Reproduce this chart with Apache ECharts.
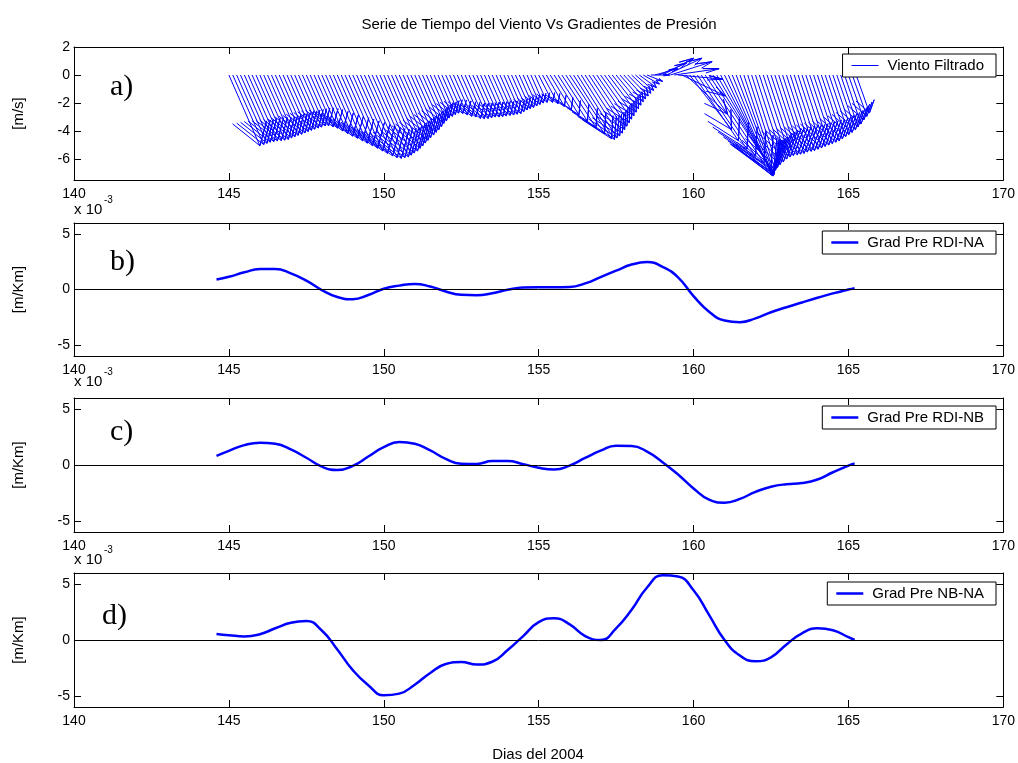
<!DOCTYPE html>
<html>
<head>
<meta charset="utf-8">
<script src="https://cdn.jsdelivr.net/npm/echarts@6/dist/echarts.min.js"></script>
<style>
  html, body { margin: 0; padding: 0; background: #fff; }
  #chart { width: 1018px; height: 763px; }
</style>
</head>
<body>
<div id="chart"></div>
<script>
// Filtered wind, 3-hourly samples starting on day 145 (u, v in m/s)
const windStart = 145;
const windStep = 0.125;
const windU = [
  1.00, 1.00, 0.98, 0.96, 0.95, 0.94, 0.94, 0.93,
  0.92, 0.90, 0.88, 0.86, 0.85, 0.83, 0.81, 0.79,
  0.77, 0.76, 0.74, 0.73, 0.72, 0.74, 0.76, 0.80,
  0.84, 0.87, 0.90, 0.94, 0.97, 1.01, 1.05, 1.09,
  1.12, 1.16, 1.18, 1.19, 1.18, 1.17, 1.14, 1.11,
  1.09, 1.05, 1.01, 0.97, 0.93, 0.89, 0.86, 0.82,
  0.78, 0.74, 0.69, 0.65, 0.61, 0.59, 0.56, 0.54,
  0.55, 0.57, 0.59, 0.60, 0.62, 0.62, 0.62, 0.61,
  0.60, 0.60, 0.59, 0.58, 0.58, 0.57, 0.56, 0.55,
  0.52, 0.50, 0.48, 0.46, 0.44, 0.42, 0.40, 0.40,
  0.45, 0.50, 0.58, 0.68, 0.80, 0.95, 1.10, 1.25,
  1.35, 1.32, 1.28, 1.24, 1.20, 1.15, 1.10, 1.05,
  1.00, 0.95, 0.90, 0.85, 0.80, 0.75, 0.70, 0.66,
  0.62, 0.58, 0.55, 0.52, 0.50, 0.60, 0.75, 0.90,
  1.00, 1.15, 1.35, 1.45, 1.45, 1.40, 1.35, 1.35,
  1.45, 1.60, 1.75, 1.90, 2.00, 1.95, 1.85, 1.70,
  1.55, 1.40, 1.30, 1.20, 1.10, 1.02, 0.96, 0.92,
  0.90, 0.88, 0.87, 0.85, 0.85, 0.83, 0.82, 0.80,
  0.80, 0.78, 0.77, 0.76, 0.75, 0.74, 0.73, 0.72,
  0.70, 0.68, 0.66, 0.64, 0.62, 0.60, 0.56, 0.53,
  0.50, 0.47, 0.43
];
const windV = [
  -5.05, -4.97, -4.88, -4.80, -4.75, -4.71, -4.68, -4.65,
  -4.60, -4.49, -4.41, -4.31, -4.23, -4.14, -4.04, -3.95,
  -3.87, -3.79, -3.72, -3.63, -3.62, -3.70, -3.80, -4.00,
  -4.18, -4.37, -4.52, -4.70, -4.87, -5.05, -5.23, -5.43,
  -5.60, -5.78, -5.90, -5.95, -5.90, -5.85, -5.72, -5.57,
  -5.43, -5.23, -5.05, -4.85, -4.66, -4.46, -4.28, -4.09,
  -3.90, -3.68, -3.45, -3.27, -3.07, -2.95, -2.82, -2.72,
  -2.75, -2.85, -2.95, -3.00, -3.10, -3.12, -3.10, -3.05,
  -3.00, -3.00, -2.97, -2.92, -2.88, -2.85, -2.80, -2.75,
  -2.62, -2.50, -2.40, -2.32, -2.20, -2.10, -2.00, -1.95,
  -1.95, -2.05, -2.25, -2.50, -2.85, -3.30, -3.75, -4.20,
  -4.55, -4.60, -4.50, -4.35, -4.15, -3.90, -3.65, -3.40,
  -3.15, -2.90, -2.65, -2.40, -2.15, -1.90, -1.70, -1.50,
  -1.30, -1.10, -0.90, -0.65, -0.45, 0.00, 0.45, 0.85,
  1.20, 1.20, 0.95, 0.45, -0.30, -1.50, -2.80, -3.90,
  -4.70, -5.30, -5.80, -6.30, -6.70, -7.00, -7.10, -7.20,
  -7.20, -7.15, -7.10, -7.00, -6.90, -6.80, -6.60, -6.40,
  -6.20, -6.00, -5.85, -5.75, -5.70, -5.65, -5.60, -5.50,
  -5.45, -5.40, -5.30, -5.20, -5.10, -5.00, -4.90, -4.80,
  -4.70, -4.55, -4.40, -4.25, -4.10, -3.90, -3.70, -3.50,
  -3.20, -2.95, -2.70
];

// Pressure gradients between stations, x 10^-3 m/Km
const gradDays = [
  144.6, 145.0, 145.5, 146.0, 146.5, 147.0, 147.5, 148.0, 148.5, 149.0, 149.5,
  150.0, 150.5, 151.0, 151.5, 152.0, 152.5, 153.0, 153.5, 154.0, 154.5,
  155.0, 155.5, 156.0, 156.5, 157.0, 157.5, 158.0, 158.5, 159.0, 159.5,
  160.0, 160.5, 161.0, 161.5, 162.0, 162.5, 163.0, 163.5, 164.0, 164.5,
  165.0, 165.2
];
const gradRdiNa = [
  0.90, 1.15, 1.55, 1.85, 1.85, 1.45, 0.80, -0.05, -0.68, -0.88, -0.50,
  0.07, 0.35, 0.50, 0.27, -0.18, -0.48, -0.52, -0.34, -0.03, 0.18,
  0.20, 0.20, 0.23, 0.55, 1.12, 1.70, 2.25, 2.47, 2.05, 1.10,
  -0.60, -2.00, -2.80, -2.95, -2.60, -2.05, -1.60, -1.17, -0.75, -0.35,
  0.00, 0.12
];
const gradRdiNb = [
  0.82, 1.27, 1.78, 2.00, 1.90, 1.40, 0.65, -0.15, -0.45, -0.08, 0.76,
  1.60, 2.05, 1.90, 1.30, 0.55, 0.12, 0.10, 0.35, 0.35, 0.08,
  -0.25, -0.40, -0.05, 0.63, 1.28, 1.72, 1.70, 1.20, 0.25, -0.85,
  -2.10, -3.10, -3.37, -3.03, -2.40, -1.95, -1.72, -1.62, -1.30, -0.65,
  -0.05, 0.15
];
const gradNbNa = [
  0.54, 0.43, 0.32, 0.52, 1.05, 1.55, 1.70, 0.85, -0.85, -2.70, -4.05,
  -4.95, -4.80, -4.00, -2.95, -2.15, -1.96, -2.20, -1.95, -0.90, 0.35,
  1.60, 1.95, 1.40, 0.35, 0.00, 1.05, 2.70, 4.70, 5.80, 5.68,
  4.45, 2.25, 0.00, -1.40, -1.90, -1.55, -0.40, 0.60, 1.05, 0.87,
  0.25, 0.00
];

const xTicks = [140, 145, 150, 155, 160, 165, 170];
const windTicks = [-6, -4, -2, 0, 2];
const gradTicks = [-5, 0, 5];

const FONT = 'Liberation Sans, Arial, sans-serif';
const SERIF = 'Liberation Serif, Times New Roman, serif';
const BLUE = '#0000ff';

const panels = [
  { top: 47,  height: 133, yMin: -7.5, yMax: 2, ticks: windTicks, unit: '[m/s]',  legendTop: 54 },
  { top: 223, height: 133, yMin: -6,   yMax: 6, ticks: gradTicks, unit: '[m/Km]', legendTop: 231 },
  { top: 398, height: 134, yMin: -6,   yMax: 6, ticks: gradTicks, unit: '[m/Km]', legendTop: 406 },
  { top: 573, height: 134, yMin: -6,   yMax: 6, ticks: gradTicks, unit: '[m/Km]', legendTop: 582 }
];

const frameLine = { show: true, onZero: false, lineStyle: { color: '#000', width: 1 } };

const grid = [], xAxis = [], yAxis = [];
panels.forEach((p, i) => {
  grid.push({ left: 74, right: 14, top: p.top, height: p.height });
  const xBase = {
    gridIndex: i, type: 'value', min: xTicks[0], max: xTicks[xTicks.length - 1], interval: 5,
    axisLine: frameLine, splitLine: { show: false },
    axisTick: { inside: true, length: 7, lineStyle: { color: '#000' } }
  };
  xAxis.push(Object.assign({}, xBase, {
    position: 'bottom',
    axisLabel: { margin: 7, color: '#000', fontSize: 14, fontFamily: FONT }
  }));
  xAxis.push(Object.assign({}, xBase, { position: 'top', axisLabel: { show: false } }));
  const yBase = {
    gridIndex: i, type: 'value', min: p.yMin, max: p.yMax,
    axisLine: frameLine, splitLine: { show: false },
    axisTick: { inside: true, length: 7, customValues: p.ticks, lineStyle: { color: '#000' } }
  };
  yAxis.push(Object.assign({}, yBase, {
    position: 'left',
    name: p.unit, nameLocation: 'middle', nameGap: 48, nameRotate: 90,
    nameTextStyle: { color: '#000', fontSize: 15, fontFamily: FONT },
    axisLabel: { margin: 4, color: '#000', fontSize: 14, fontFamily: FONT, customValues: p.ticks }
  }));
  yAxis.push(Object.assign({}, yBase, { position: 'right', axisLabel: { show: false } }));
});

// Feather arrows: shaft from (day, 0) to (day + u, v); head is one third of the
// vector long, barbs offset by a third of that on each side
const headBack = 0.33, headSide = 0.33 * 0.33;
function renderFeather(params, api) {
  const t = api.value(0), u = api.value(1), v = api.value(2);
  const h = 1 - headBack, w = headSide;
  const pts = [
    [t, 0],
    [t + u, v],
    [t + h * u - w * v, h * v + w * u],
    [t + u, v],
    [t + h * u + w * v, h * v - w * u]
  ].map(p => api.coord(p));
  return {
    type: 'polyline',
    shape: { points: pts },
    style: { stroke: BLUE, lineWidth: 1, fill: null }
  };
}

const zeroLine = {
  silent: true, symbol: 'none', label: { show: false },
  lineStyle: { color: '#000', width: 1, type: 'solid' },
  data: [{ yAxis: 0 }]
};

function gradSeries(name, values, idx) {
  return {
    name: name, type: 'line', xAxisIndex: idx * 2, yAxisIndex: idx * 2,
    data: gradDays.map((d, k) => [d, values[k]]),
    showSymbol: false, smooth: 0.5,
    color: BLUE, lineStyle: { color: BLUE, width: 2.5 },
    markLine: zeroLine, z: 3
  };
}

const series = [
  {
    name: 'Viento Filtrado', type: 'custom', xAxisIndex: 0, yAxisIndex: 0,
    data: windU.map((u, k) => [windStart + k * windStep, u, windV[k]]),
    encode: { x: 0, y: 2 },
    itemStyle: { color: BLUE },
    renderItem: renderFeather
  },
  gradSeries('Grad Pre RDI-NA', gradRdiNa, 1),
  gradSeries('Grad Pre RDI-NB', gradRdiNb, 2),
  gradSeries('Grad Pre NB-NA', gradNbNa, 3)
];

const legendNames = ['Viento Filtrado', 'Grad Pre RDI-NA', 'Grad Pre RDI-NB', 'Grad Pre NB-NA'];
const legend = legendNames.map((n, i) => ({
  data: [n], right: 22, top: panels[i].legendTop, orient: 'horizontal',
  icon: 'rect', itemWidth: 27, itemHeight: i === 0 ? 1 : 2.5,
  padding: [4, 12, 4, 9],
  backgroundColor: '#fff', borderColor: '#000', borderWidth: 1, borderRadius: 0,
  selectedMode: false,
  textStyle: { color: '#000', fontSize: 15, fontFamily: FONT, padding: [0, 0, 0, 4] }
}));

const letters = [['a)', 87], ['b)', 262], ['c)', 432], ['d)', 616]];
const graphic = [
  { type: 'text', x: 539, y: 25, style: { text: 'Serie de Tiempo del Viento Vs Gradientes de Presión', font: '15px ' + FONT, fill: '#000', textAlign: 'center', textVerticalAlign: 'middle' } },
  { type: 'text', x: 538, y: 755, style: { text: 'Dias del 2004', font: '15px ' + FONT, fill: '#000', textAlign: 'center', textVerticalAlign: 'middle' } }
];
letters.forEach(([txt, y], i) => {
  graphic.push({ type: 'text', x: i === 3 ? 102 : 110, y: y, style: { text: txt, font: '30px ' + SERIF, fill: '#000', textAlign: 'left', textVerticalAlign: 'middle' } });
});
[[210, 200], [382, 372], [560, 550]].forEach(([yMain, ySup]) => {
  graphic.push({ type: 'text', x: 74, y: yMain, style: { text: 'x 10', font: '15px ' + FONT, fill: '#000', textAlign: 'left', textVerticalAlign: 'middle' } });
  graphic.push({ type: 'text', x: 104, y: ySup, style: { text: '-3', font: '10px ' + FONT, fill: '#000', textAlign: 'left', textVerticalAlign: 'middle' } });
});

const chart = echarts.init(document.getElementById('chart'), null, { renderer: 'canvas' });
chart.setOption({
  animation: false,
  backgroundColor: '#fff',
  textStyle: { fontFamily: FONT },
  grid: grid, xAxis: xAxis, yAxis: yAxis,
  legend: legend, series: series, graphic: graphic
});
</script>
</body>
</html>
